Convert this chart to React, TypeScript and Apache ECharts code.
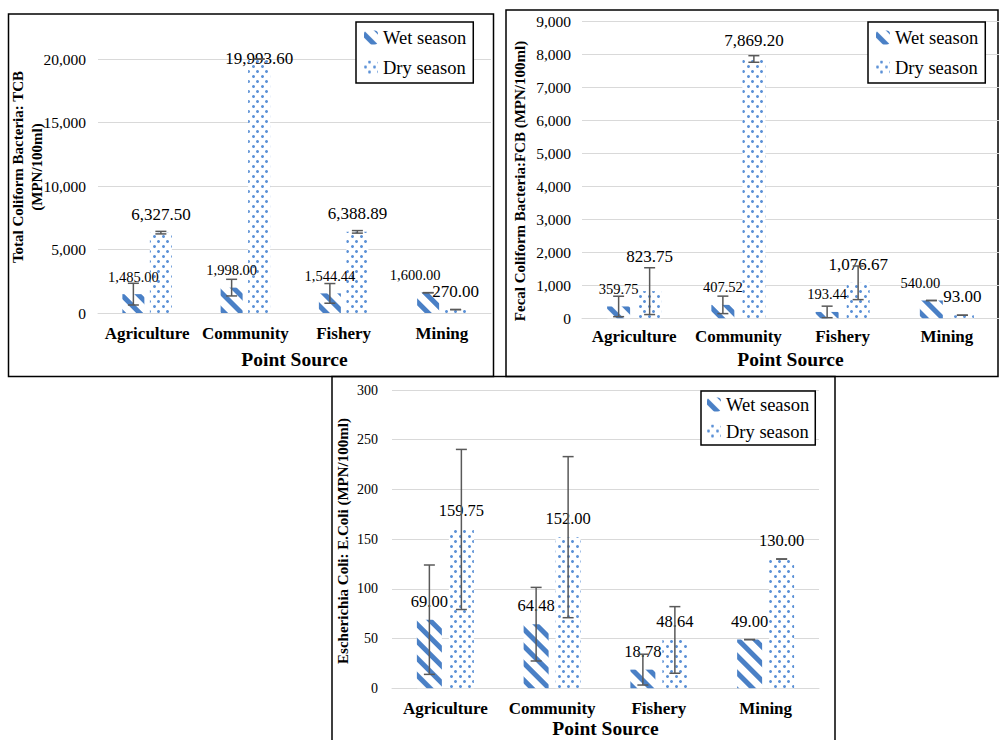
import React, { useEffect, useRef } from 'react';
import * as echarts from 'echarts';

const categories = ['Agriculture', 'Community', 'Fishery', 'Mining'];

// Total Coliform Bacteria (TCB)
const tcbWet = [1485.0, 1998.0, 1544.44, 1600.0];
const tcbDry = [6327.5, 19993.6, 6388.89, 270.0];
const tcbWetErr = [855, 655, 775, 0];
const tcbDryErr = [100, 0, 100, 0];

// Fecal Coliform Bacteria (FCB)
const fcbWet = [359.75, 407.52, 193.44, 540.0];
const fcbDry = [823.75, 7869.2, 1076.67, 93.0];
const fcbWetErr = [310, 265, 175, 0];
const fcbDryErr = [710, 100, 510, 0];

// Escherichia Coli
const ecWet = [69.0, 64.48, 18.78, 49.0];
const ecDry = [159.75, 152.0, 48.64, 130.0];
const ecWetErr = [55, 37, 15.5, 0];
const ecDryErr = [80.5, 81, 33.5, 0];

const yTitles = [
  'Total Coliform Bacteria: TCB\n(MPN/100ml)',
  'Fecal Coliform Bacteria:FCB (MPN/100ml)',
  'Escherichia Coli: E.Coli (MPN/100ml)',
];
const xTitle = 'Point Source';
const seriesNames = ['Wet season', 'Dry season'];

const FONT = 'Liberation Serif';
const WET_DECAL = {
  symbol: 'rect',
  symbolSize: 1,
  color: '#4a80c6',
  backgroundColor: '#ffffff',
  dashArrayX: [1, 0],
  dashArrayY: [5, 6.5],
  rotation: Math.PI / 4,
};
const DRY_DECAL = {
  symbol: 'circle',
  symbolSize: 1,
  color: '#5b91d6',
  backgroundColor: '#ffffff',
  dashArrayX: [[2.4, 5.1], [0, 3.75, 2.4, 1.35]],
  dashArrayY: [2.4, 1.9],
  rotation: 0,
};

const fmt2 = (v: number) =>
  Number(v).toLocaleString('en-US', { minimumFractionDigits: 2, maximumFractionDigits: 2 });
const fmtTick = (v: number) => Number(v).toLocaleString('en-US');

export default function App() {
  const ref = useRef<HTMLDivElement>(null);

  useEffect(() => {
    if (!ref.current) return;
    const chart = echarts.init(ref.current, undefined, { renderer: 'svg' });

    const panels = [
      {
        grid: { left: 98, top: 59, width: 393, height: 254 },
        max: 20000, interval: 5000,
        wet: tcbWet, dry: tcbDry, wetErr: tcbWetErr, dryErr: tcbDryErr,
        barWidth: 22, barGap: '25%', off: 13.75,
        wetFont: 14.5, dryFont: 17, tickFont: 15.5, tickMargin: 12, catMargin: 11.5, nameGap: 36,
        wetOverrides: { 3: { offset: [-13, 0] } } as any,
        dryOverrides: { 1: { distance: -8 } } as any,
        legend: { left: 356, top: 22, padding: [6, 7, 6, 8], itemGap: 11 },
        title: { x: 27.5, y: 167 },
      },
      {
        grid: { left: 582, top: 21.7, width: 424, height: 296.6 },
        max: 9000, interval: 1000,
        wet: fcbWet, dry: fcbDry, wetErr: fcbWetErr, dryErr: fcbDryErr,
        barWidth: 23, barGap: '35%', off: 15.5,
        wetFont: 14.5, dryFont: 17, tickFont: 15.5, tickMargin: 11, catMargin: 10, nameGap: 31,
        wetOverrides: { 3: { offset: [-11, 0] } } as any,
        dryOverrides: { 0: { distance: 26 } } as any,
        legend: { left: 868, top: 22, padding: [6, 7, 6, 8], itemGap: 11 },
        title: { x: 520, y: 181 },
      },
      {
        grid: { left: 392, top: 390, width: 427, height: 298.3 },
        max: 300, interval: 50,
        wet: ecWet, dry: ecDry, wetErr: ecWetErr, dryErr: ecDryErr,
        barWidth: 25, barGap: '28%', off: 16,
        wetFont: 16.5, dryFont: 16.5, tickFont: 14, tickMargin: 14, catMargin: 12, nameGap: 29,
        wetOverrides: {} as any,
        dryOverrides: {} as any,
        legend: { left: 701, top: 391, padding: [4, 6, 4, 6], itemGap: 8 },
        title: { x: 342.7, y: 541 },
      },
    ];

    const grids: any[] = [];
    const xAxes: any[] = [];
    const yAxes: any[] = [];
    const series: any[] = [];
    const legends: any[] = [];
    const graphics: any[] = [];

    panels.forEach((p, i) => {
      grids.push({ ...p.grid, containLabel: false });
      xAxes.push({
        type: 'category',
        gridIndex: i,
        data: categories,
        axisTick: { show: false },
        axisLine: { show: true, lineStyle: { color: '#d9d9d9', width: 1 } },
        axisLabel: {
          margin: p.catMargin,
          color: '#000',
          fontFamily: FONT,
          fontWeight: 'bold',
          fontSize: 17,
          interval: 0,
        },
        name: xTitle,
        nameLocation: 'middle',
        nameGap: p.nameGap,
        nameTextStyle: { color: '#000', fontFamily: FONT, fontWeight: 'bold', fontSize: 19.5 },
      });
      yAxes.push({
        type: 'value',
        gridIndex: i,
        min: 0,
        max: p.max,
        interval: p.interval,
        axisLine: { show: false },
        axisTick: { show: false },
        splitLine: { lineStyle: { color: '#d9d9d9', width: 1 } },
        axisLabel: {
          margin: p.tickMargin,
          color: '#000',
          fontFamily: FONT,
          fontSize: p.tickFont,
          formatter: fmtTick,
        },
      });

      const mk = (vals: number[], overrides: any) =>
        vals.map((v, k) => {
          const o = overrides[k];
          if (!o) return v;
          return { value: v, label: { ...o } };
        });

      const labelOpt = (size: number) => ({
        show: true,
        position: 'top',
        distance: 10,
        color: '#000',
        fontFamily: FONT,
        fontSize: size,
        formatter: (q: any) => fmt2(q.value),
      });

      series.push({
        name: seriesNames[0],
        type: 'bar',
        xAxisIndex: i,
        yAxisIndex: i,
        data: mk(p.wet, p.wetOverrides),
        barWidth: p.barWidth,
        barGap: p.barGap,
        z: 2,
        itemStyle: { color: '#ffffff', decal: WET_DECAL },
        label: labelOpt(p.wetFont),
      });
      series.push({
        name: seriesNames[1],
        type: 'bar',
        xAxisIndex: i,
        yAxisIndex: i,
        data: mk(p.dry, p.dryOverrides),
        barWidth: p.barWidth,
        barGap: p.barGap,
        z: 2,
        itemStyle: { color: '#ffffff', decal: DRY_DECAL },
        label: labelOpt(p.dryFont),
      });

      const errData = (vals: number[], errs: number[], side: number) =>
        vals.map((v, k) => [k, v - errs[k], v + errs[k], side]);

      const renderErr = (params: any, api: any) => {
        const ci = api.value(0);
        const lo = api.value(1);
        const hi = api.value(2);
        const side = api.value(3);
        const pLo = api.coord([ci, lo]);
        const pHi = api.coord([ci, hi]);
        const x = pLo[0] + (side === 0 ? -p.off : p.off);
        const cw = 5.5;
        const st = { stroke: '#595959', lineWidth: 1.5 };
        return {
          type: 'group',
          children: [
            { type: 'line', shape: { x1: x, y1: pHi[1], x2: x, y2: pLo[1] }, style: st },
            { type: 'line', shape: { x1: x - cw, y1: pHi[1], x2: x + cw, y2: pHi[1] }, style: st },
            { type: 'line', shape: { x1: x - cw, y1: pLo[1], x2: x + cw, y2: pLo[1] }, style: st },
          ],
        };
      };

      series.push({
        name: 'err-wet-' + i,
        type: 'custom',
        xAxisIndex: i,
        yAxisIndex: i,
        z: 5,
        silent: true,
        data: errData(p.wet, p.wetErr, 0),
        renderItem: renderErr,
        encode: { x: 0, y: [1, 2] },
      });
      series.push({
        name: 'err-dry-' + i,
        type: 'custom',
        xAxisIndex: i,
        yAxisIndex: i,
        z: 5,
        silent: true,
        data: errData(p.dry, p.dryErr, 1),
        renderItem: renderErr,
        encode: { x: 0, y: [1, 2] },
      });

      legends.push({
        data: seriesNames,
        orient: 'vertical',
        left: p.legend.left,
        top: p.legend.top,
        padding: p.legend.padding,
        itemGap: p.legend.itemGap,
        itemWidth: 14,
        itemHeight: 14,
        borderColor: '#000',
        borderWidth: 1.5,
        backgroundColor: '#fff',
        selectedMode: false,
        textStyle: { color: '#000', fontFamily: FONT, fontSize: 18.5 },
      });

      graphics.push({
        type: 'text',
        x: p.title.x,
        y: p.title.y,
        rotation: Math.PI / 2,
        z: 10,
        style: {
          text: yTitles[i],
          fill: '#000',
          fontFamily: FONT,
          fontWeight: 'bold',
          fontSize: 15,
          lineHeight: 19,
          align: 'center',
          verticalAlign: 'middle',
        },
      });
    });

    const borders = [
      { x: 8.5, y: 14, width: 485, height: 362.5 },
      { x: 506, y: 10, width: 492, height: 366.5 },
      { x: 332, y: 376.5, width: 503, height: 380 },
    ];
    borders.forEach((b) => {
      graphics.push({
        type: 'rect',
        shape: b,
        z: 0,
        silent: true,
        style: { fill: 'none', stroke: '#000', lineWidth: 1.5 },
      });
    });

    chart.setOption({
      animation: false,
      backgroundColor: '#ffffff',
      textStyle: { fontFamily: FONT },
      aria: { enabled: false, decal: { show: false } },
      grid: grids,
      xAxis: xAxes,
      yAxis: yAxes,
      legend: legends,
      series,
      graphic: graphics,
    });

    return () => chart.dispose();
  }, []);

  return (
    <div
      ref={ref}
      style={{ position: 'absolute', left: 0, top: 0, width: 999, height: 740, background: '#fff' }}
    />
  );
}
